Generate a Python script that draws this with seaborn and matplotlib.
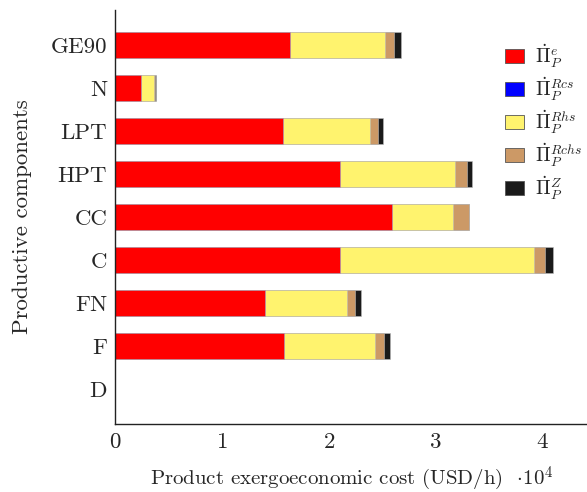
import seaborn as sns
import pandas as pd
import matplotlib.pyplot as plt
from matplotlib.patches import Patch

# data (units of 1e4 USD/h), top to bottom
components = ['GE90', 'N', 'LPT', 'HPT', 'CC', 'C', 'FN', 'F', 'D']
pi_e    = [1.639, 0.238, 1.573, 2.101, 2.596, 2.101, 1.407, 1.576, 0.0]
pi_rcs  = [0.0, 0.0, 0.0, 0.0, 0.0, 0.0, 0.0, 0.0, 0.0]
pi_rhs  = [0.888, 0.125, 0.810, 1.086, 0.566, 1.821, 0.767, 0.860, 0.0]
pi_rchs = [0.087, 0.009, 0.081, 0.110, 0.150, 0.109, 0.075, 0.084, 0.0]
pi_z    = [0.063, 0.005, 0.041, 0.049, 0.006, 0.069, 0.051, 0.050, 0.0]

labels = [r'$\dot{\Pi}_P^{e}$', r'$\dot{\Pi}_P^{Rcs}$', r'$\dot{\Pi}_P^{Rhs}$',
          r'$\dot{\Pi}_P^{Rchs}$', r'$\dot{\Pi}_P^{Z}$']
colors = ['#ff0000', '#0000ff', '#fff36e', '#cc9966', '#1a1a1a']

sns.set_style('white')
plt.rcParams['font.family'] = ['cmr10']
plt.rcParams['mathtext.fontset'] = 'cm'
plt.rcParams['axes.formatter.use_mathtext'] = True

df = pd.DataFrame({'comp': components, 'e': pi_e, 'rcs': pi_rcs,
                   'rhs': pi_rhs, 'rchs': pi_rchs, 'z': pi_z})
parts = ['e', 'rcs', 'rhs', 'rchs', 'z']
cum = df[parts].cumsum(axis=1)

fig = plt.figure(figsize=(5.87, 4.92), dpi=100)
ax = fig.add_axes([0.1965, 0.138, 0.8035, 0.842])

# stacked bars: draw cumulative totals, largest first
for p, c in reversed(list(zip(parts, colors))):
    sns.barplot(x=cum[p], y=df['comp'], order=components, color=c,
                width=0.62, edgecolor='#bbbbbb', linewidth=0.4, ax=ax,
                saturation=1)

ax.set_xlim(0, 4.42)
ax.set_ylim(8.814, -0.814)
ax.set_xticks([0, 1, 2, 3, 4])
ax.tick_params(axis='both', direction='in', color='#999999', length=4,
               labelsize=16.5, pad=6)
for s in ['top', 'right']:
    ax.spines[s].set_visible(False)
for s in ['left', 'bottom']:
    ax.spines[s].set_color('#222222')
    ax.spines[s].set_linewidth(1.0)

ax.set_xlabel(r'Product exergoeconomic cost (USD/h)  $\cdot 10^4$', fontsize=15, labelpad=9)
ax.set_ylabel('Productive components', fontsize=16.5, labelpad=13)

handles = [Patch(facecolor=c, edgecolor='#555555', linewidth=0.6) for c in colors]
ax.legend(handles, labels, loc='upper right', bbox_to_anchor=(1.015, 0.95),
          frameon=False, fontsize=14, handlelength=0.95, handleheight=0.7,
          labelspacing=0.28, handletextpad=0.6, borderaxespad=0.2)

fig.savefig('out.png', dpi=100)
